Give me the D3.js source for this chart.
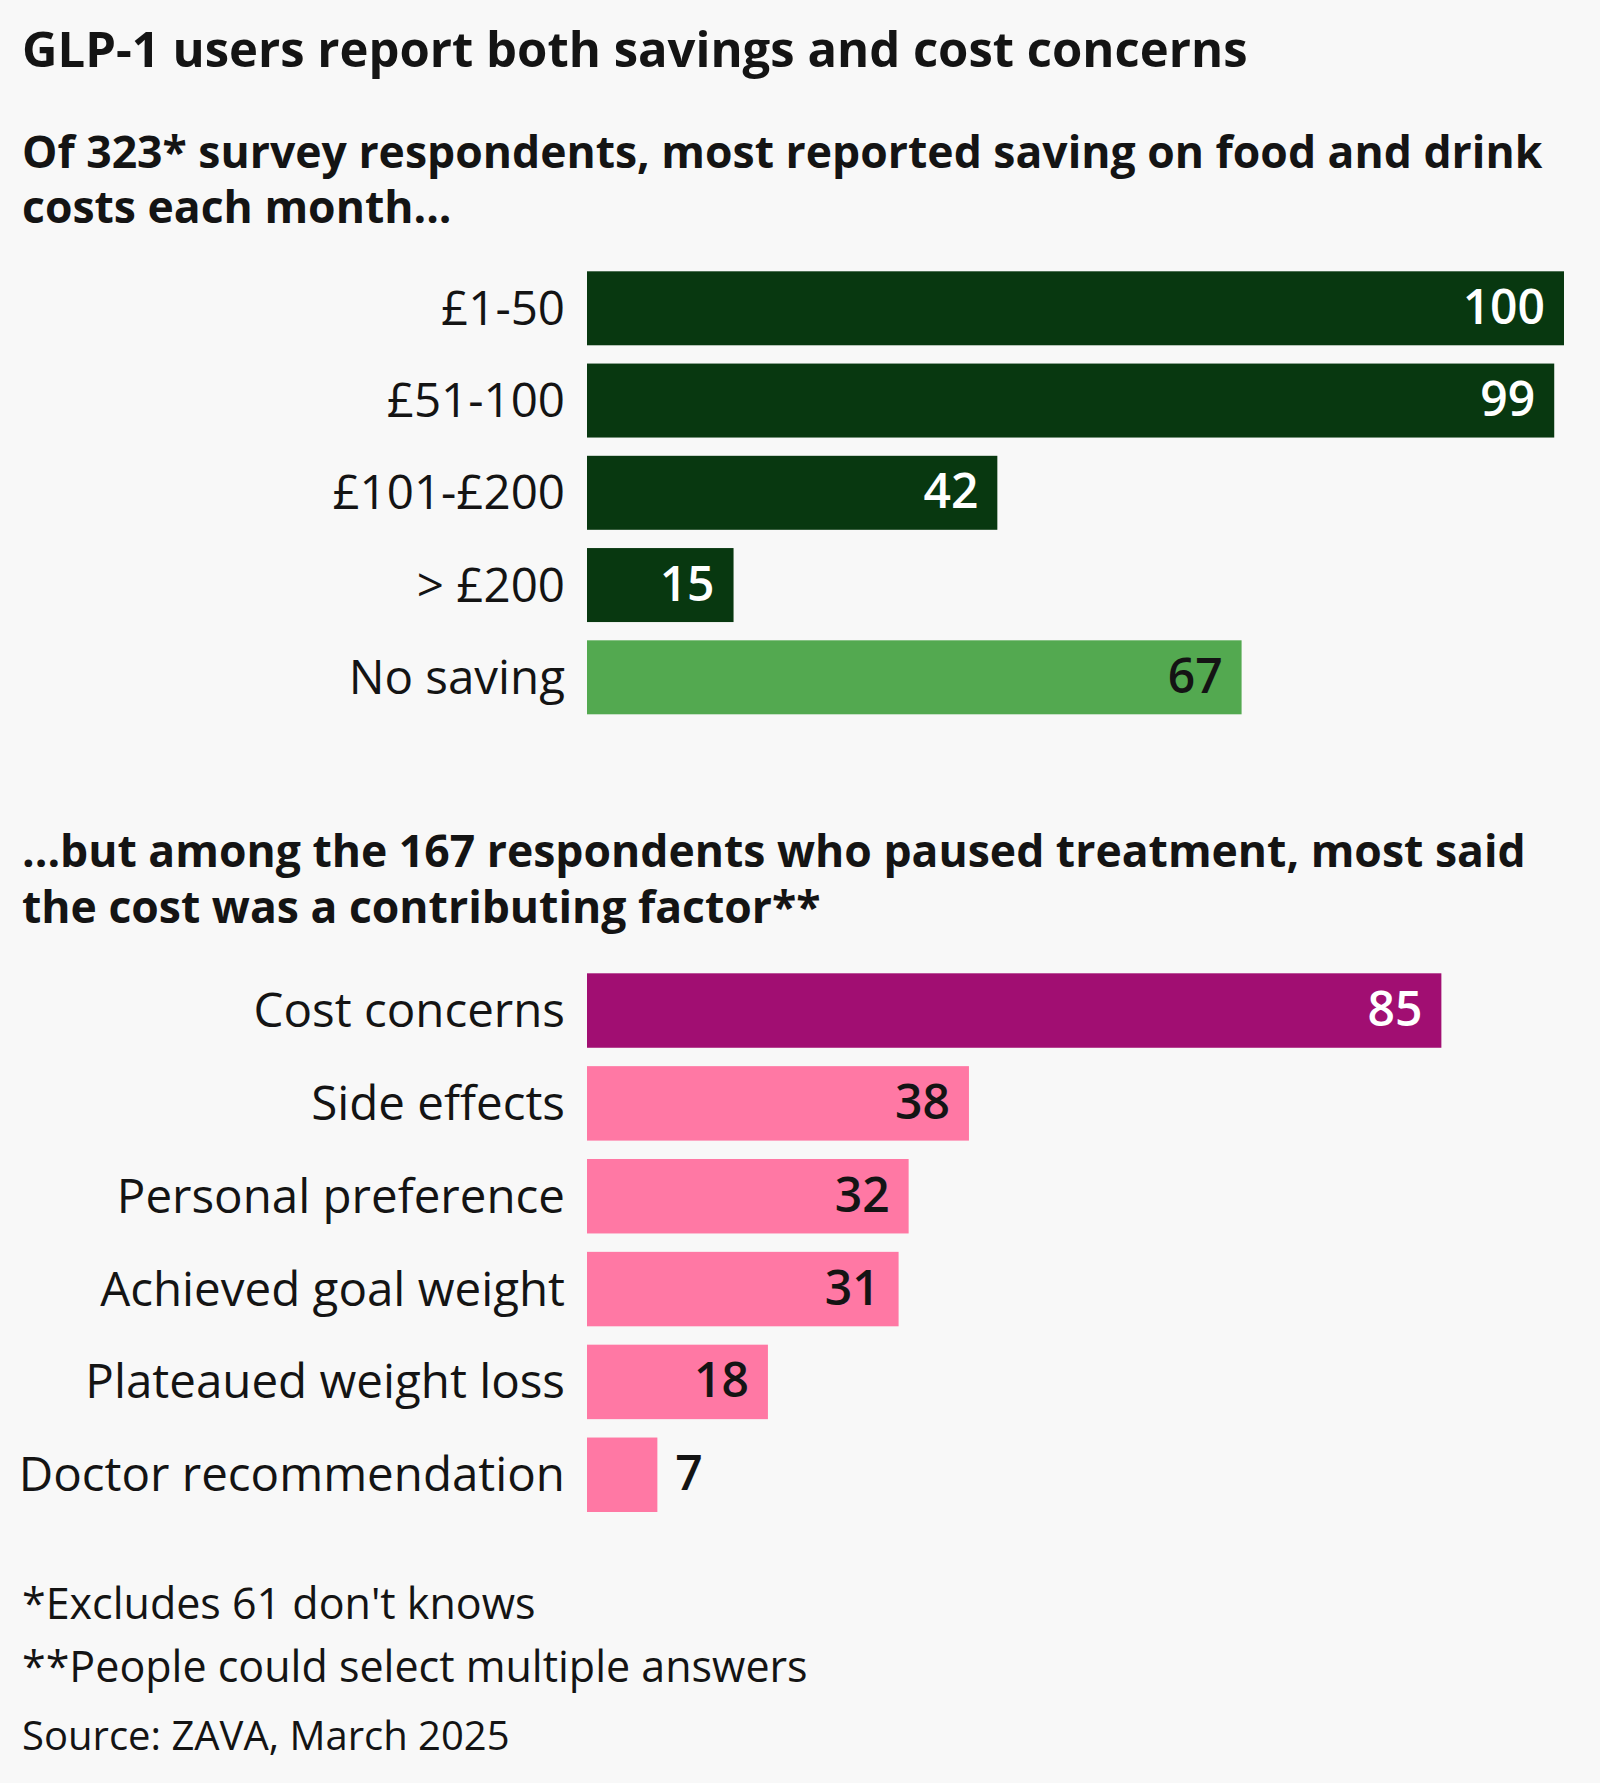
<!DOCTYPE html>
<html>
<head>
<meta charset="utf-8">
<script src="https://cdn.jsdelivr.net/npm/d3@7"></script>
<style>
  html, body { margin: 0; padding: 0; background: #f8f8f8; }
  svg { display: block; }
  text { font-family: "Open Sans", "Noto Sans", sans-serif; fill: #141414; }
</style>
</head>
<body>
<svg id="chart" width="1600" height="1783"></svg>
<script>
// ---- Data ----
const titleText = "GLP-1 users report both savings and cost concerns";
const subtitle1Lines = ["Of 323* survey respondents, most reported saving on food and drink", "costs each month..."];
const subtitle2Lines = ["...but among the 167 respondents who paused treatment, most said", "the cost was a contributing factor**"];
const footnotes = ["*Excludes 61 don't knows", "**People could select multiple answers"];
const sourceText = "Source: ZAVA, March 2025";

const savingCategories = ["£1-50", "£51-100", "£101-£200", "> £200", "No saving"];
const savingValues = [100, 99, 42, 15, 67];
const savingColors = ["#083810", "#083810", "#083810", "#083810", "#53a950"];
const savingTextColors = ["#ffffff", "#ffffff", "#ffffff", "#ffffff", "#141414"];

const reasonCategories = ["Cost concerns", "Side effects", "Personal preference", "Achieved goal weight", "Plateaued weight loss", "Doctor recommendation"];
const reasonValues = [85, 38, 32, 31, 18, 7];
const reasonColors = ["#a10e72", "#ff78a4", "#ff78a4", "#ff78a4", "#ff78a4", "#ff78a4"];
const reasonTextColors = ["#ffffff", "#141414", "#141414", "#141414", "#141414", "#141414"];

const savingAxisMax = 100;
const reasonAxisMax = 97.2;

// ---- Layout ----
const svg = d3.select("#chart");
svg.append("rect").attr("width", 1600).attr("height", 1783).attr("fill", "#f8f8f8");

const leftX = 22;
const barX0 = 587, barX1 = 1564;
const labelX = 565;

svg.append("text").attr("x", leftX).attr("y", 67).attr("font-size", 49).attr("font-weight", 700).text(titleText);

function multiline(lines, y0, lh, size) {
  const g = svg.append("g");
  lines.forEach((l, i) => g.append("text")
    .attr("x", leftX).attr("y", y0 + i * lh)
    .attr("font-size", size).attr("font-weight", 700).text(l));
}
multiline(subtitle1Lines, 167.5, 55.5, 44.5);
multiline(subtitle2Lines, 867, 55.5, 44.5);

function barChart(cats, vals, colors, textColors, axisMax, y0, y1) {
  const x = d3.scaleLinear().domain([0, axisMax]).range([barX0, barX1]);
  const y = d3.scaleBand().domain(cats).range([y0, y1]).paddingInner(0.198).paddingOuter(0);
  const data = cats.map((c, i) => ({ c, v: vals[i], col: colors[i], tc: textColors[i] }));
  const g = svg.append("g");
  g.selectAll("rect.bar").data(data).join("rect")
    .attr("class", "bar")
    .attr("x", x(0))
    .attr("y", d => y(d.c))
    .attr("width", d => x(d.v) - x(0))
    .attr("height", y.bandwidth())
    .attr("fill", d => d.col);
  g.selectAll("text.cat").data(data).join("text")
    .attr("class", "cat")
    .attr("x", labelX)
    .attr("y", d => y(d.c) + y.bandwidth() / 2 + 16.5)
    .attr("text-anchor", "end")
    .attr("font-size", 47.5)
    .text(d => d.c);
  g.selectAll("text.val").data(data).join("text")
    .attr("class", "val")
    .each(function (d) {
      const w = x(d.v) - x(0);
      const inside = w > 100;
      d3.select(this)
        .attr("x", inside ? x(d.v) - 19 : x(d.v) + 18)
        .attr("text-anchor", inside ? "end" : "start")
        .style("fill", inside ? d.tc : "#141414");
    })
    .attr("y", d => y(d.c) + y.bandwidth() / 2 + 15.5)
    .attr("font-size", 48)
    .attr("font-weight", 600)
    .text(d => d.v);
}

barChart(savingCategories, savingValues, savingColors, savingTextColors, savingAxisMax, 271.3, 714.3);
barChart(reasonCategories, reasonValues, reasonColors, reasonTextColors, reasonAxisMax, 973.3, 1512);

const footY = [1619, 1682];
footnotes.forEach((f, i) => {
  svg.append("text").attr("x", leftX).attr("y", footY[i]).attr("font-size", 43).text(f);
});
svg.append("text").attr("x", leftX).attr("y", 1750).attr("font-size", 40).text(sourceText);
</script>
</body>
</html>
